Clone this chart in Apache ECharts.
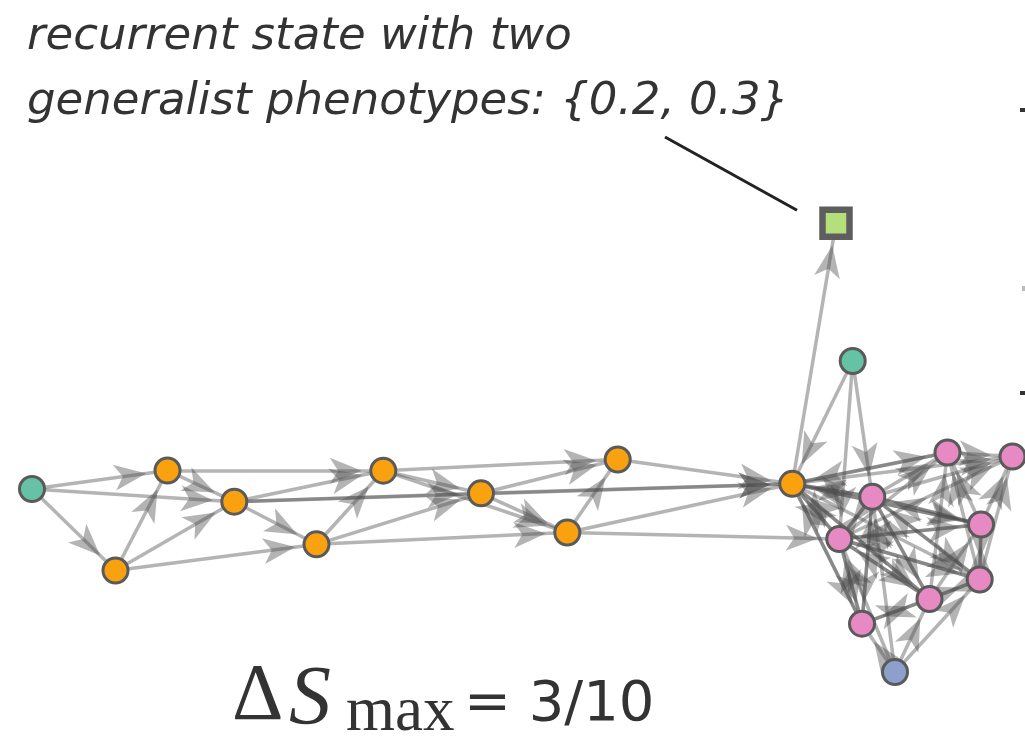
<!DOCTYPE html>
<html>
<head>
<meta charset="utf-8">
<script src="https://cdn.jsdelivr.net/npm/echarts@6/dist/echarts.min.js"></script>
<style>
  html, body { margin: 0; padding: 0; background: #ffffff; }
  #chart { width: 1025px; height: 744px; }
</style>
</head>
<body>
<div id="chart"></div>
<script>
// ---- state network: node names, layout positions and phenotype groups ----
const nodeNames = ['G1', 'O1', 'O2', 'O3', 'O4', 'O5', 'O6', 'O7', 'O8', 'O9',
                   'SQ', 'G2', 'P1', 'P2', 'P3', 'P4', 'P5', 'P6', 'P7', 'P8', 'B1'];
const nodeX = [0.320, 1.155, 1.675, 2.343, 3.165, 3.833, 4.810, 5.673, 6.177, 7.923,
               8.360, 8.527, 9.475, 10.125, 8.723, 8.393, 9.810, 9.797, 9.295, 8.620, 8.950];
const nodeY = [2.550, 1.735, 2.735, 2.423, 1.997, 2.733, 2.507, 2.115, 2.845, 2.602,
               5.207, 3.830, 2.915, 2.875, 2.472, 2.050, 2.195, 1.645, 1.450, 1.203, 0.720];
// 0 green, 1 orange, 2 pink, 3 blue, 4 generalist (square)
const nodeGroup = [0, 1, 1, 1, 1, 1, 1, 1, 1, 1, 4, 0, 2, 2, 2, 2, 2, 2, 2, 2, 3];
const groupNames = ['green', 'orange', 'pink', 'blue', 'generalist'];
const groupColors = ['#66c2a5', '#f9a10f', '#e78ac3', '#8da0cb', '#b5df7a'];

// ---- directed transitions (source -> target) ----
const linkFrom = [
  'G1', 'G1', 'G1', 'O1', 'O1', 'O1', 'O2', 'O2', 'O3', 'O3', 'O3', 'O3',
  'O4', 'O4', 'O4', 'O5', 'O5', 'O5', 'O6', 'O6', 'O6', 'O7', 'O7', 'O7', 'O8',
  'O9', 'G2', 'G2', 'G2',
  'O9', 'O9', 'O9', 'O9', 'O9', 'O9', 'O9', 'O9',
  'P1', 'P3', 'P4', 'P5', 'P7', 'P8',
  'P1', 'P3', 'P4', 'P5', 'P6',
  'P3', 'P4', 'P5', 'P6', 'P7',
  'P4', 'P5', 'P6', 'P7', 'P8',
  'P3', 'P5', 'P6', 'P7', 'P8',
  'P3', 'P4', 'P6', 'P7',
  'P3', 'P4', 'P7', 'P5',
  'P3', 'P4', 'P8', 'P6',
  'P3', 'P4', 'P7',
  'B1', 'B1', 'B1', 'B1', 'B1'
];
const linkTo = [
  'O2', 'O3', 'O1', 'O2', 'O3', 'O4', 'O3', 'O5', 'O4', 'O5', 'O6', 'O9',
  'O5', 'O6', 'O7', 'O6', 'O7', 'O8', 'O7', 'O8', 'O9', 'O8', 'O9', 'P4', 'O9',
  'SQ', 'O9', 'P3', 'P4',
  'P1', 'P2', 'P3', 'P4', 'P5', 'P6', 'P7', 'P8',
  'O9', 'O9', 'O9', 'O9', 'O9', 'O9',
  'P2', 'P2', 'P2', 'P2', 'P2',
  'P1', 'P1', 'P1', 'P1', 'P1',
  'P3', 'P3', 'P3', 'P3', 'P3',
  'P4', 'P4', 'P4', 'P4', 'P4',
  'P5', 'P5', 'P5', 'P5',
  'P6', 'P6', 'P6', 'P6',
  'P7', 'P7', 'P7', 'P7',
  'P8', 'P8', 'P8',
  'P8', 'P7', 'P6', 'P4', 'P3'
];

// ---- texts ----
const annotationLines = ['recurrent state with two', 'generalist phenotypes: {0.2, 0.3}'];
const deltaSymbol = '\u0394';
const deltaVar = 'S';
const deltaSub = 'max';
const deltaValue = '= 3/10';

// swept-back arrowhead, sitting a little in front of the target node.
// The path lives in a square box (stray move-to points set its extent) so that
// one edge-symbol size maps it 1:1 and keeps its proportions.
const ARROW_GAP = 9, ARROW_LEN = 32, ARROW_W = 26;
const BOX = 2 * (ARROW_GAP + ARROW_LEN);
const TIP_Y = 2 * ARROW_GAP + ARROW_LEN;
const xPad = (BOX - ARROW_W) / 2;
const arrowPath = 'path://M' + (-xPad) + ' 0 M' + (ARROW_W + xPad) + ' ' + BOX +
  ' M' + (ARROW_W / 2) + ' ' + TIP_Y +
  ' L' + ARROW_W + ' ' + BOX +
  ' L' + (ARROW_W / 2) + ' ' + (TIP_Y + ARROW_LEN * 0.74) +
  ' L0 ' + BOX + ' Z';

const nodes = nodeNames.map(function (name, i) {
  const item = {
    name: name,
    value: [nodeX[i], nodeY[i]],
    category: nodeGroup[i]
  };
  if (nodeGroup[i] === 4) {
    item.symbol = 'rect';
    item.symbolSize = 27;
    item.itemStyle = { borderWidth: 6.5, borderColor: '#5e5e5e' };
  }
  return item;
});
const links = linkFrom.map(function (s, i) {
  return { source: s, target: linkTo[i], symbol: ['none', arrowPath], symbolSize: [0, BOX] };
});

const chart = echarts.init(document.getElementById('chart'), null, { renderer: 'canvas' });

chart.setOption({
  backgroundColor: '#ffffff',
  animation: false,
  grid: { left: 0, right: 0, top: 0, bottom: 0, containLabel: false },
  xAxis: { type: 'value', min: 0, max: 10.25, show: false },
  yAxis: { type: 'value', min: 0, max: 7.44, show: false },
  series: [{
    type: 'graph',
    coordinateSystem: 'cartesian2d',
    xAxisIndex: 0,
    yAxisIndex: 0,
    data: nodes,
    links: links,
    categories: groupNames.map(function (g, i) {
      return { name: g, itemStyle: { color: groupColors[i] } };
    }),
    symbol: 'circle',
    symbolSize: 25,
    itemStyle: { borderColor: '#5a5a5a', borderWidth: 3 },
    lineStyle: { color: '#4d4d4d', width: 3.5, opacity: 0.42, curveness: 0 },
    edgeSymbol: ['none', arrowPath],
    edgeSymbolSize: [0, BOX],
    label: { show: false },
    emphasis: { disabled: true },
    silent: true
  }]
});

// annotation texts and pointer to the generalist state
const sqIdx = nodeNames.indexOf('SQ');
const sqPix = chart.convertToPixel({ gridIndex: 0 }, [nodeX[sqIdx], nodeY[sqIdx]]);

chart.setOption({
  graphic: [
    { type: 'text', left: 27, top: 15,
      style: { text: annotationLines[0], font: 'italic 45px "DejaVu Sans"', fill: '#333333' } },
    { type: 'text', left: 27, top: 80,
      style: { text: annotationLines[1], font: 'italic 45px "DejaVu Sans"', fill: '#333333' } },
    { type: 'line',
      shape: { x1: 665, y1: 137, x2: sqPix[0] - 39, y2: sqPix[1] - 13 },
      style: { stroke: '#222222', lineWidth: 3 } },
    { type: 'text', left: 232, top: 658,
      style: { text: deltaSymbol, font: '80px "Liberation Serif"', fill: '#333333' } },
    { type: 'text', left: 289, top: 660,
      style: { text: deltaVar, font: 'italic 84px "Liberation Serif"', fill: '#333333' } },
    { type: 'text', left: 346, top: 682,
      style: { text: deltaSub, font: '63px "Liberation Serif"', fill: '#333333' } },
    { type: 'text', left: 464, top: 677,
      style: { text: deltaValue, font: '56px "DejaVu Sans"', fill: '#333333' } },
    // fragments of neighbouring text at the right border
    { type: 'rect', shape: { x: 1020, y: 108, width: 5, height: 4 }, style: { fill: '#333333' } },
    { type: 'rect', shape: { x: 1022, y: 286, width: 3, height: 5 }, style: { fill: '#bbbbbb' } },
    { type: 'rect', shape: { x: 1020, y: 391, width: 5, height: 4 }, style: { fill: '#333333' } }
  ]
});
</script>
</body>
</html>
